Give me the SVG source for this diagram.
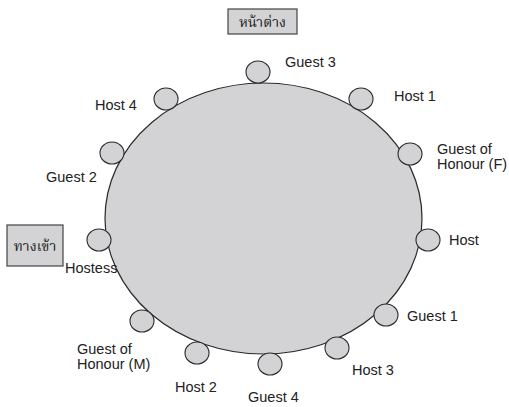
<svg xmlns="http://www.w3.org/2000/svg" width="509" height="407" viewBox="0 0 509 407">
<style>
.tbl{fill:#d3d3d5;stroke:#2a2a2a;stroke-width:1.2}
.seat{fill:#d3d3d5;stroke:#2a2a2a;stroke-width:1.1}
.box{fill:#d3d3d5;stroke:#444;stroke-width:1.2}
.lbl{font-family:"Liberation Sans",Arial,sans-serif;font-size:14.5px;fill:#222}
.th{font-family:"Liberation Serif","Noto Serif Thai","Noto Sans Thai",serif;font-size:14px;fill:#222;text-anchor:middle}
</style>
<rect width="509" height="407" fill="#fff"/>
<g id="window">
<rect class="box" x="228" y="9" width="69" height="25"/>
<text class="th" x="262.5" y="27">หน้าต่าง</text>
</g>
<g id="entrance">
<rect class="box" x="7" y="225" width="56" height="41"/>
<text class="th" x="35" y="251">ทางเข้า</text>
</g>
<g id="table">
<ellipse class="tbl" cx="263.5" cy="218.5" rx="158.5" ry="135.5"/>
</g>
<g id="guest3"><ellipse class="seat" cx="258" cy="72" rx="12" ry="11"/><text class="lbl" x="285" y="67">Guest 3</text></g>
<g id="host1"><ellipse class="seat" cx="361" cy="99" rx="12" ry="11"/><text class="lbl" x="394" y="101">Host 1</text></g>
<g id="guestOfHonourF"><ellipse class="seat" cx="410" cy="154" rx="12" ry="11"/><text class="lbl" x="437" y="154">Guest of</text><text class="lbl" x="437" y="169">Honour (F)</text></g>
<g id="host"><ellipse class="seat" cx="428" cy="240" rx="12" ry="11"/><text class="lbl" x="449" y="245">Host</text></g>
<g id="guest1"><ellipse class="seat" cx="386" cy="315" rx="12" ry="11"/><text class="lbl" x="407" y="321">Guest 1</text></g>
<g id="host3"><ellipse class="seat" cx="337" cy="348" rx="12" ry="11"/><text class="lbl" x="352" y="375">Host 3</text></g>
<g id="guest4"><ellipse class="seat" cx="270" cy="364" rx="12" ry="11"/><text class="lbl" x="248" y="402">Guest 4</text></g>
<g id="host2"><ellipse class="seat" cx="197" cy="353" rx="12" ry="11"/><text class="lbl" x="175" y="392">Host 2</text></g>
<g id="guestOfHonourM"><ellipse class="seat" cx="142" cy="321" rx="12" ry="11"/><text class="lbl" x="77" y="354">Guest of</text><text class="lbl" x="77" y="369">Honour (M)</text></g>
<g id="hostess"><ellipse class="seat" cx="99" cy="240" rx="12" ry="11"/><text class="lbl" x="65" y="273">Hostess</text></g>
<g id="guest2"><ellipse class="seat" cx="112" cy="153" rx="12" ry="11"/><text class="lbl" x="46" y="182">Guest 2</text></g>
<g id="host4"><ellipse class="seat" cx="166" cy="99" rx="12" ry="11"/><text class="lbl" x="95" y="110">Host 4</text></g>
<g id="connectors"></g>
</svg>
